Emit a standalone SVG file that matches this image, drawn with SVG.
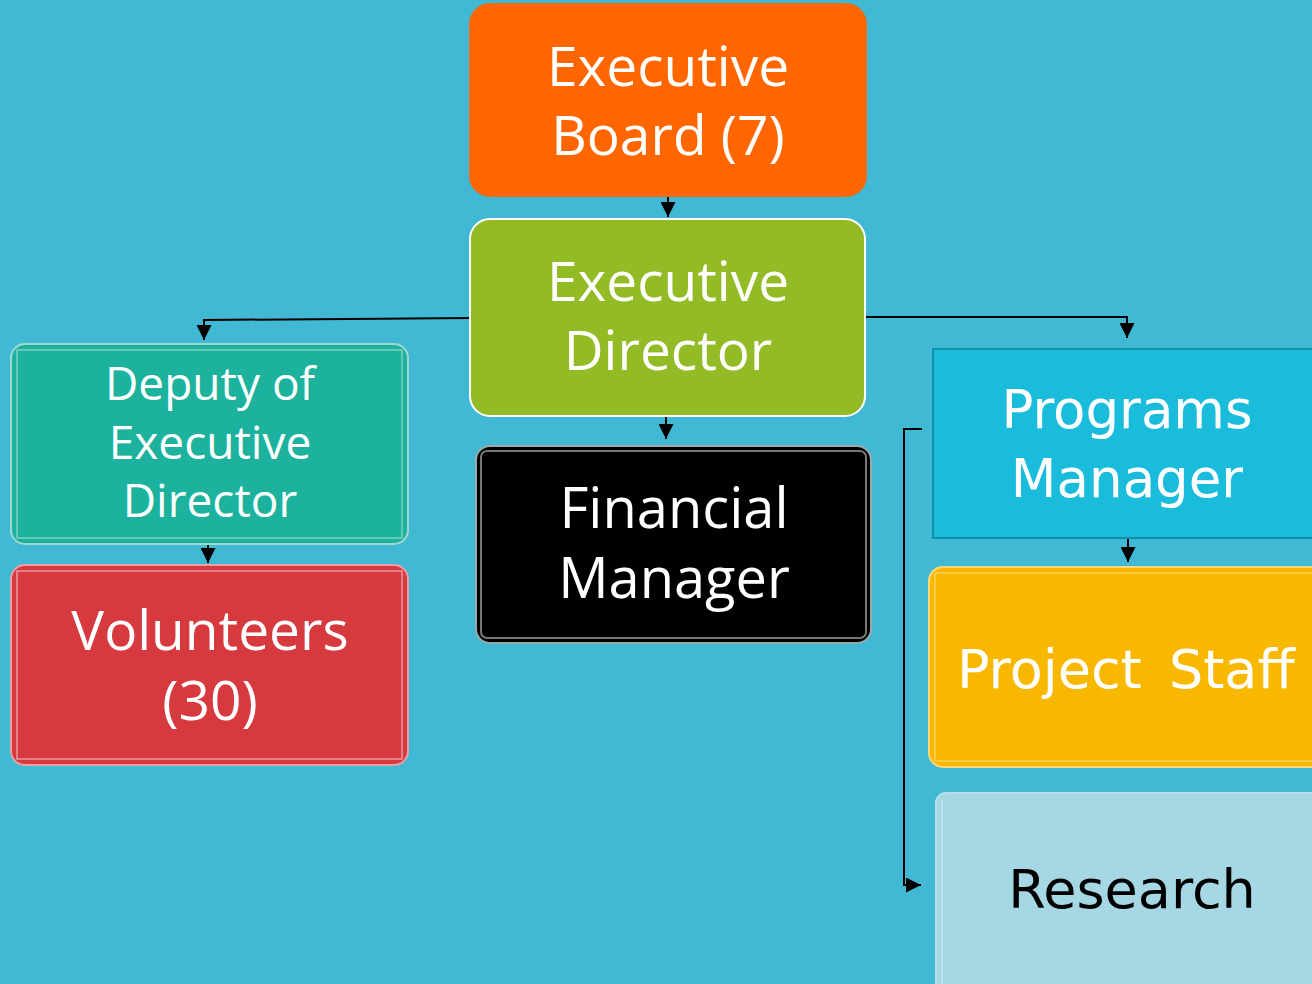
<svg xmlns="http://www.w3.org/2000/svg" width="1312" height="984" viewBox="0 0 1312 984">
<defs>
<marker id="ah" viewBox="0 0 10 10" refX="10" refY="5" markerWidth="15" markerHeight="15" markerUnits="userSpaceOnUse" orient="auto"><path d="M0,0 L10,5 L0,10 z" fill="#000"/></marker>
<style>
.t{font-family:"Open Sans","Lato","Liberation Sans",sans-serif;fill:#fff;text-anchor:middle}
.d{font-family:"DejaVu Sans",sans-serif;fill:#fff;text-anchor:middle}
.c{fill:none;stroke:#000;stroke-width:2}
</style>
</defs>
<rect width="1312" height="984" fill="#41B9D4"/>
<g id="connectors">
<path class="c" d="M668,196 V217" marker-end="url(#ah)"/>
<path class="c" d="M472,318 L204,320 V340" marker-end="url(#ah)"/>
<path class="c" d="M862,317 H1127 V338" marker-end="url(#ah)"/>
<path class="c" d="M666,417 V439" marker-end="url(#ah)"/>
<path class="c" d="M208,544 V563" marker-end="url(#ah)"/>
<path class="c" d="M1128,538 V562" marker-end="url(#ah)"/>
<path class="c" d="M922,429 H904 V885 H921" marker-end="url(#ah)"/>
</g>
<g id="executive-board">
<rect x="470" y="4" width="396" height="192" rx="20" fill="#FF6600" stroke="#F26A10" stroke-width="2"/>
<text class="t" x="668" y="86" font-size="55">Executive</text>
<text class="t" x="668" y="155" font-size="55">Board (7)</text>
</g>
<g id="executive-director">
<rect x="470" y="219" width="395" height="197" rx="20" fill="#92BB25" stroke="#fff" stroke-width="2"/>
<text class="t" x="668" y="301" font-size="55">Executive</text>
<text class="t" x="668" y="370" font-size="55">Director</text>
</g>
<g id="financial-manager">
<rect x="476" y="446" width="395" height="197" rx="14" fill="#000" stroke="#9aa" stroke-width="2"/>
<rect x="481" y="451" width="385" height="187" rx="6" fill="none" stroke="#777" stroke-width="2"/>
<text class="t" x="674" y="528" font-size="56">Financial</text>
<text class="t" x="674" y="598" font-size="56">Manager</text>
</g>
<g id="deputy">
<rect x="11" y="344" width="397" height="200" rx="14" fill="#1CB29D" stroke="#9fd8cf" stroke-width="2"/>
<rect x="17" y="350" width="385" height="188" fill="none" stroke="#7fcfc2" stroke-width="1.5"/>
<text class="t" x="210" y="400" font-size="46">Deputy of</text>
<text class="t" x="210" y="459" font-size="46">Executive</text>
<text class="t" x="210" y="517" font-size="46">Director</text>
</g>
<g id="volunteers">
<rect x="11" y="565" width="397" height="200" rx="14" fill="#D63A3F" stroke="#e9a0a5" stroke-width="2"/>
<rect x="17" y="571" width="385" height="188" fill="none" stroke="#e79a9e" stroke-width="1.5"/>
<text class="t" x="210" y="650" font-size="55">Volunteers</text>
<text class="t" x="210" y="720" font-size="55">(30)</text>
</g>
<g id="programs-manager">
<rect x="933" y="349" width="390" height="189" fill="#1ABCDB" stroke="#128fa8" stroke-width="2"/>
<text class="d" x="1127" y="428" font-size="53">Programs</text>
<text class="d" x="1127" y="497" font-size="53">Manager</text>
</g>
<g id="project-staff">
<rect x="929" y="567" width="400" height="200" rx="14" fill="#F9B800" stroke="#fbd77a" stroke-width="2"/>
<rect x="935" y="573" width="390" height="188" fill="none" stroke="#fcd05a" stroke-width="1.5"/>
<text class="d" x="957" y="688" font-size="54" style="text-anchor:start" word-spacing="10">Project Staff</text>
</g>
<g id="research">
<rect x="936" y="793" width="390" height="200" rx="10" fill="#A6D7E4" stroke="#b8e0ea" stroke-width="2"/>
<line x1="942" y1="800" x2="942" y2="984" stroke="#c4e4ec" stroke-width="1.5"/>
<text class="d" x="1132" y="908" font-size="54" style="fill:#000">Research</text>
</g>
</svg>
